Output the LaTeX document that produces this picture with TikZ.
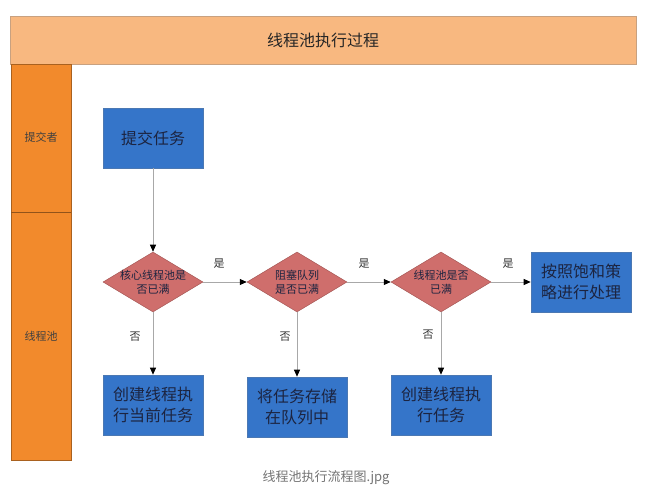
\documentclass[tikz,border=0pt]{standalone}
\usepackage{fontspec}
\newfontfamily\cjk{Noto Sans CJK SC}
\usetikzlibrary{shapes.geometric,arrows.meta}
\definecolor{titlefill}{HTML}{F8B880}
\definecolor{lanefill}{HTML}{F28A2C}
\definecolor{boxfill}{HTML}{3575C9}
\definecolor{diafill}{HTML}{CF6E6C}
\definecolor{txtdark}{HTML}{1C2440}
\definecolor{linegray}{HTML}{A8A8A8}
\tikzset{
  x=1pt,y=1pt,
  every node/.style={font=\cjk},
  bluebox/.style={rectangle,fill=boxfill,draw=boxfill!70!gray,line width=0.6pt,minimum width=100pt,minimum height=60pt,inner sep=0pt,align=center,text=txtdark,font=\cjk\fontsize{16}{21}\selectfont},
  dia/.style={diamond,fill=diafill,draw=diafill!80!black,line width=0.5pt,minimum width=100pt,minimum height=60pt,inner sep=0pt},
  diatext/.style={align=center,text=txtdark,font=\cjk\fontsize{11}{14}\selectfont,inner sep=0pt},
  lbl/.style={text=black!80,font=\cjk\fontsize{11}{13}\selectfont,inner sep=0pt},
  flow/.style={draw=linegray,line width=0.8pt,-{Triangle[length=7pt,width=6pt,fill=black,color=black]}}
}
\begin{document}
\begin{tikzpicture}
\useasboundingbox (0,0) rectangle (646,-494);
% title bar
\draw[fill=titlefill,draw=titlefill!60!gray,line width=0.6pt] (10,-16) rectangle (636,-64);
\node[text=black!85,font=\cjk\fontsize{16}{18}\selectfont] (title) at (323,-40) {线程池执行过程};
% lane column
\draw[fill=lanefill,draw=lanefill!70!black,line width=0.6pt] (11,-64) rectangle (71,-460);
\draw[draw=lanefill!60!black,line width=0.6pt] (11,-212) -- (71,-212);
\node[lbl,text=black!75] (lane1) at (41,-137) {提交者};
\node[lbl,text=black!75] (lane2) at (41,-336) {线程池};
% nodes
\node[bluebox] (s0) at (153,-138) {提交任务};
\node[dia] (d1) at (153,-282) {};
\node[diatext] (d1t) at (153,-282) {核心线程池是\\否已满};
\node[dia] (d2) at (297,-282) {};
\node[diatext] (d2t) at (297,-282) {阻塞队列\\是否已满};
\node[dia] (d3) at (441,-282) {};
\node[diatext] (d3t) at (441,-282) {线程池是否\\已满};
\node[bluebox] (r) at (581,-282) {按照饱和策\\略进行处理};
\node[bluebox] (b1) at (153,-405) {创建线程执\\行当前任务};
\node[bluebox] (b2) at (297,-407) {将任务存储\\在队列中};
\node[bluebox] (b3) at (441,-405) {创建线程执\\行任务};
% connectors
\draw[flow] (s0.south) -- (d1.north);
\draw[flow] (d1.east) -- (d2.west);
\draw[flow] (d2.east) -- (d3.west);
\draw[flow] (d3.east) -- (r.west);
\draw[flow] (d1.south) -- (b1.north);
\draw[flow] (d2.south) -- (b2.north);
\draw[flow] (d3.south) -- (b3.north);
% labels
\node[lbl] (y1) at (219,-264) {是};
\node[lbl] (y2) at (364,-264) {是};
\node[lbl] (y3) at (508,-264) {是};
\node[lbl] (n1) at (135,-337) {否};
\node[lbl] (n2) at (285,-337) {否};
\node[lbl] (n3) at (428,-335) {否};
% caption
\node[text=black!55,font=\cjk\fontsize{13}{15}\selectfont] (cap) at (326,-478) {线程池执行流程图.jpg};
\end{tikzpicture}
\end{document}
